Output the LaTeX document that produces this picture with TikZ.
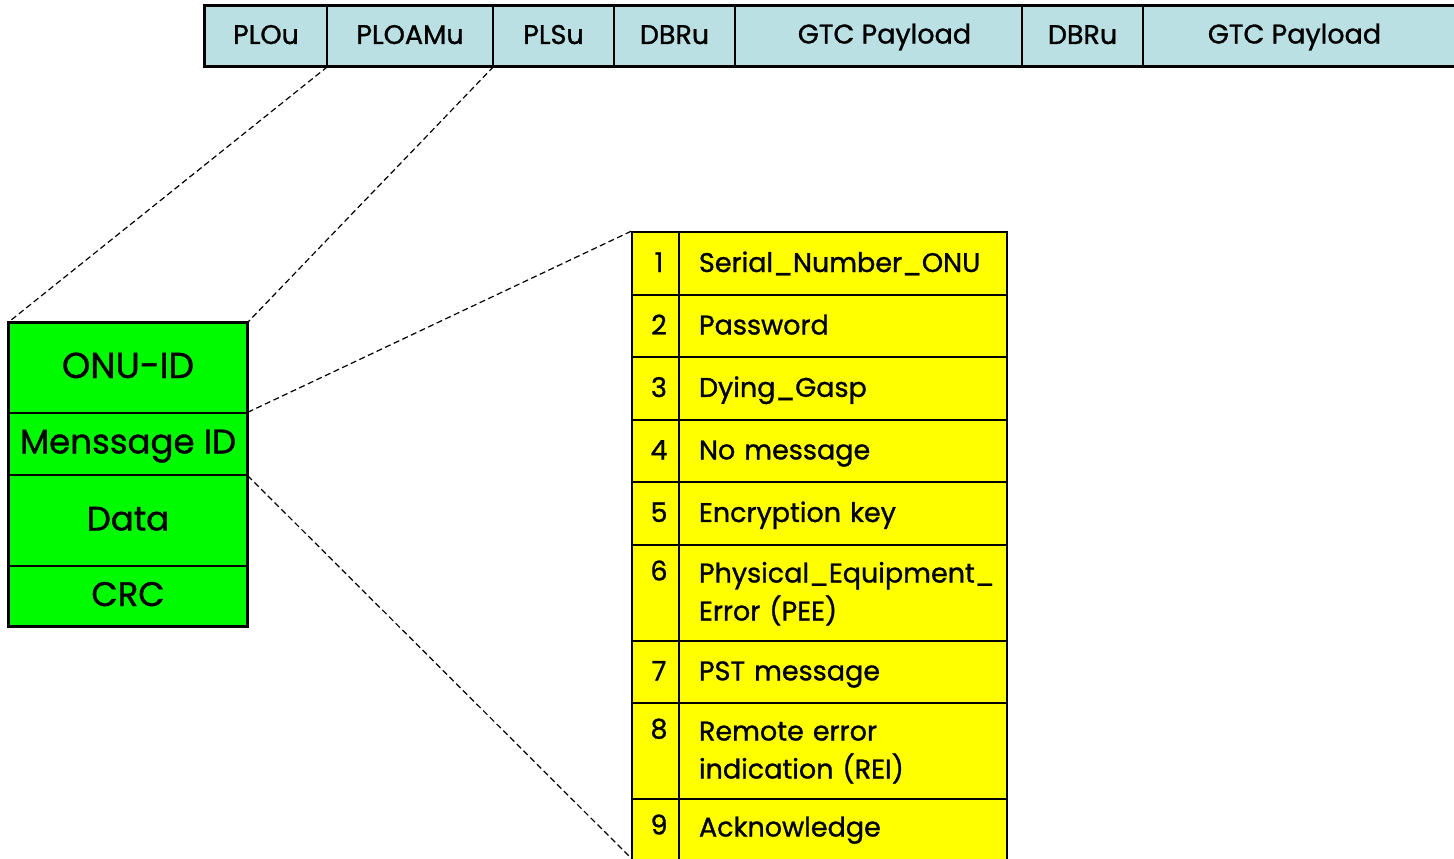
\documentclass[tikz,border=0pt]{standalone}
\usepackage{fontspec}
\setmainfont{Poppins}[RawFeature={embolden=1.1}]
\definecolor{barblue}{RGB}{186,224,228}
\definecolor{grn}{RGB}{0,250,0}
\definecolor{ylw}{RGB}{255,255,0}
\newcommand\barstrut{\rule[-6pt]{0pt}{28pt}}
\newcommand\grnstrut{\rule[-8pt]{0pt}{36pt}}
\newcommand\tblstrut{\rule[-7pt]{0pt}{31pt}}
\begin{document}
\begin{tikzpicture}[x=1pt,y=-1pt,
  bar/.style={draw, line width=1.2pt, fill=barblue, minimum height=60pt, inner sep=0pt, font=\fontsize{27}{30}\selectfont, execute at begin node=\barstrut},
  gcell/.style={draw, line width=1.4pt, fill=grn, minimum width=238pt, inner sep=0pt, font=\fontsize{34}{38}\selectfont, execute at begin node=\grnstrut},
  numcell/.style={draw, line width=1.6pt, fill=ylw, minimum width=47pt, inner sep=0pt, align=center, font=\fontsize{27}{38}\selectfont, execute at begin node={\hspace*{7pt}\tblstrut}, execute at end node=\tblstrut},
  txtcell/.style={draw, line width=1.6pt, fill=ylw, minimum width=328pt, inner xsep=20pt, inner ysep=0pt, text width=288pt, align=left, font=\fontsize{27}{38}\selectfont, execute at begin node=\tblstrut, execute at end node=\tblstrut},
  dashln/.style={line width=1.2pt, dash pattern=on 6pt off 3.5pt}]
\useasboundingbox (0,0) rectangle (1454,859);
% top bar
\node[bar, minimum width=122pt] (c1) at (266,36) {PLOu};
\node[bar, minimum width=166pt] (c2) at (410,36) {PLOAMu};
\node[bar, minimum width=121pt] (c3) at (553.5,36) {PLSu};
\node[bar, minimum width=121pt] (c4) at (674.5,36) {DBRu};
\node[bar, minimum width=287pt] (c5) at (878.5,36) {\hspace*{12pt}GTC Payload};
\node[bar, minimum width=121pt] (c6) at (1082.5,36) {DBRu};
\node[bar, minimum width=313pt] (c7) at (1299.5,36) {GTC Payload\hspace*{10pt}};
\draw[line width=2pt] (c1.north west) rectangle (c7.south east);
% green block
\node[gcell, minimum height=90pt, font=\fontsize{36}{38}\selectfont] (onu) at (128,368) {ONU-ID};
\node[gcell, minimum height=62pt] (msg) at (128,444) {Menssage ID};
\node[gcell, minimum height=91pt] (data) at (128,520.5) {Data};
\node[gcell, minimum height=60pt] (crc) at (128,596) {CRC};
\draw[line width=2pt] (onu.north west) rectangle (crc.south east);
% table
\node[numcell, minimum height=63pt] (n1) at (655.5,263.5) {1};
\node[txtcell, minimum height=63pt] (t1) at (843,263.5) {Serial\_Number\_ONU};
\node[numcell, minimum height=62pt] (n2) at (655.5,326) {2};
\node[txtcell, minimum height=62pt] (t2) at (843,326) {Password};
\node[numcell, minimum height=63pt] (n3) at (655.5,388.5) {3};
\node[txtcell, minimum height=63pt] (t3) at (843,388.5) {Dying\_Gasp};
\node[numcell, minimum height=62pt] (n4) at (655.5,451) {4};
\node[txtcell, minimum height=62pt] (t4) at (843,451) {No message};
\node[numcell, minimum height=63pt] (n5) at (655.5,513.5) {5};
\node[txtcell, minimum height=63pt] (t5) at (843,513.5) {Encryption key};
\node[numcell, minimum height=96pt] (n6) at (655.5,593) {6\\\mbox{}};
\node[txtcell, minimum height=96pt] (t6) at (843,593) {Physical\_Equipment\_\\Error (PEE)};
\node[numcell, minimum height=62pt] (n7) at (655.5,672) {7};
\node[txtcell, minimum height=62pt] (t7) at (843,672) {PST message};
\node[numcell, minimum height=96pt] (n8) at (655.5,751) {8\\\mbox{}};
\node[txtcell, minimum height=96pt] (t8) at (843,751) {Remote error\\indication (REI)};
\node[numcell, minimum height=96pt] (n9) at (655.5,847) {9\\\mbox{}};
\node[txtcell, minimum height=96pt] (t9) at (843,847) {Acknowledge\\\mbox{}};
% dashed connectors
\coordinate (tblend) at (632,859);
\draw[dashln] (c1.south east) -- (onu.north west);
\draw[dashln] (c2.south east) -- (onu.north east);
\draw[dashln] (msg.north east) -- (n1.north west);
\draw[dashln] (msg.south east) -- (tblend);
\end{tikzpicture}
\end{document}
